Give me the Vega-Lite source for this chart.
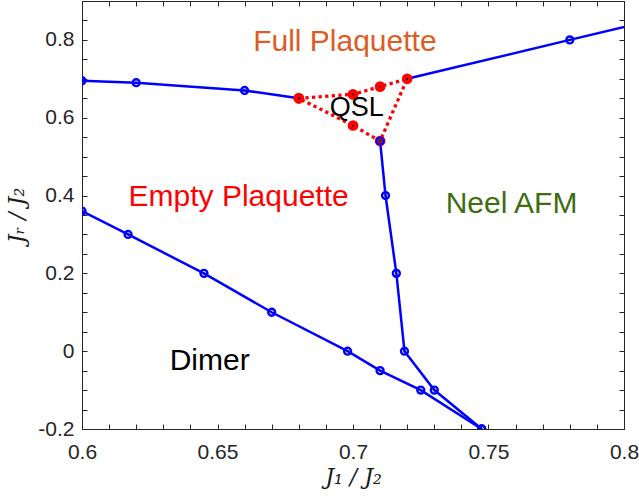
{
  "$schema": "https://vega.github.io/schema/vega-lite/v6.json",
  "width": 542,
  "height": 428,
  "autosize": "none",
  "padding": {"left": 82, "top": 1, "right": 15, "bottom": 68},
  "background": "white",
  "config": {
    "view": {"stroke": null},
    "font": "Liberation Sans",
    "axis": {
      "domainColor": "#262626",
      "domainWidth": 1,
      "tickColor": "#262626",
      "tickWidth": 1,
      "tickSize": 5,
      "grid": false,
      "labelColor": "#262626",
      "labelFont": "Liberation Sans",
      "labelFontSize": 21,
      "labelFlush": false,
      "labelOverlap": false,
      "titleFont": "DejaVu Serif",
      "titleFontStyle": "italic",
      "titleFontWeight": "normal",
      "titleFontSize": 22,
      "titleColor": "#1a1a1a"
    }
  },
  "datasets": {
    "lines": [
      {"series": "upperLeft", "ord": 0, "x": 0.6, "y": 0.695},
      {"series": "upperLeft", "ord": 1, "x": 0.62, "y": 0.69},
      {"series": "upperLeft", "ord": 2, "x": 0.66, "y": 0.67},
      {"series": "upperLeft", "ord": 3, "x": 0.68, "y": 0.65},
      {"series": "upperRight", "ord": 0, "x": 0.72, "y": 0.70},
      {"series": "upperRight", "ord": 1, "x": 0.78, "y": 0.80},
      {"series": "upperRight", "ord": 2, "x": 0.84, "y": 0.90},
      {"series": "vertical", "ord": 0, "x": 0.71, "y": 0.54},
      {"series": "vertical", "ord": 1, "x": 0.712, "y": 0.40},
      {"series": "vertical", "ord": 2, "x": 0.716, "y": 0.20},
      {"series": "vertical", "ord": 3, "x": 0.719, "y": 0.00},
      {"series": "vertical", "ord": 4, "x": 0.73, "y": -0.10},
      {"series": "vertical", "ord": 5, "x": 0.7475, "y": -0.20},
      {"series": "lower", "ord": 0, "x": 0.6, "y": 0.36},
      {"series": "lower", "ord": 1, "x": 0.617, "y": 0.30},
      {"series": "lower", "ord": 2, "x": 0.645, "y": 0.20},
      {"series": "lower", "ord": 3, "x": 0.67, "y": 0.10},
      {"series": "lower", "ord": 4, "x": 0.698, "y": 0.00},
      {"series": "lower", "ord": 5, "x": 0.71, "y": -0.05},
      {"series": "lower", "ord": 6, "x": 0.725, "y": -0.10},
      {"series": "lower", "ord": 7, "x": 0.7475, "y": -0.20}
    ],
    "qsl": [
      {"ord": 0, "x": 0.68, "y": 0.65},
      {"ord": 1, "x": 0.70, "y": 0.66},
      {"ord": 2, "x": 0.71, "y": 0.68},
      {"ord": 3, "x": 0.72, "y": 0.70},
      {"ord": 4, "x": 0.71, "y": 0.54},
      {"ord": 5, "x": 0.70, "y": 0.58},
      {"ord": 6, "x": 0.68, "y": 0.65}
    ],
    "labels": [
      {"label": "Full Plaquette", "x": 0.697, "y": 0.795, "phase": "full"},
      {"label": "Empty Plaquette", "x": 0.6578, "y": 0.396, "phase": "empty"},
      {"label": "Neel AFM", "x": 0.7585, "y": 0.378, "phase": "neel"},
      {"label": "Dimer", "x": 0.6471, "y": -0.024, "phase": "dimer"}
    ],
    "qslLabel": [
      {"label": "QSL", "x": 0.7014, "y": 0.626}
    ]
  },
  "resolve": {"scale": {"x": "independent", "y": "independent"}, "axis": {"x": "independent", "y": "independent"}},
  "layer": [
    {
      "data": {"name": "lines"},
      "mark": {"type": "point", "opacity": 0},
      "encoding": {
        "x": {
          "field": "x", "type": "quantitative",
          "scale": {"domain": [0.6, 0.8], "nice": false, "zero": false},
          "axis": {
            "orient": "bottom",
            "title": "J₁ / J₂",
            "titlePadding": 4,
            "ticks": false,
            "labelPadding": 12,
            "values": [0.6, 0.65, 0.7, 0.75, 0.8],
            "labelExpr": "format(datum.value, '~g')"
          }
        },
        "y": {
          "field": "y", "type": "quantitative",
          "scale": {"domain": [-0.2, 0.9], "nice": false, "zero": false},
          "axis": {
            "orient": "left",
            "title": "Jᵣ / J₂",
            "titlePadding": 9,
            "ticks": false,
            "labelPadding": 8,
            "values": [-0.2, 0, 0.2, 0.4, 0.6, 0.8],
            "labelExpr": "replace(format(datum.value, '~g'), '−', '-')"
          }
        }
      }
    },
    {
      "data": {"name": "lines"},
      "mark": {"type": "point", "opacity": 0},
      "encoding": {
        "x": {
          "field": "x", "type": "quantitative",
          "scale": {"domain": [0.6, 0.8], "nice": false, "zero": false},
          "axis": {
            "orient": "top", "offset": -428, "title": null, "labels": false,
            "values": [0.6, 0.61, 0.62, 0.63, 0.64, 0.65, 0.66, 0.67, 0.68, 0.69, 0.7, 0.71, 0.72, 0.73, 0.74, 0.75, 0.76, 0.77, 0.78, 0.79, 0.8]
          }
        },
        "y": {
          "field": "y", "type": "quantitative",
          "scale": {"domain": [-0.2, 0.9], "nice": false, "zero": false},
          "axis": {
            "orient": "right", "offset": -542, "title": null, "labels": false,
            "values": [-0.2, -0.15, -0.1, -0.05, 0, 0.05, 0.1, 0.15, 0.2, 0.25, 0.3, 0.35, 0.4, 0.45, 0.5, 0.55, 0.6, 0.65, 0.7, 0.75, 0.8, 0.85, 0.9]
          }
        }
      }
    },
    {
      "data": {"name": "lines"},
      "mark": {"type": "point", "opacity": 0},
      "encoding": {
        "x": {
          "field": "x", "type": "quantitative",
          "scale": {"domain": [0.6, 0.8], "nice": false, "zero": false},
          "axis": {
            "orient": "bottom", "offset": -428, "title": null, "labels": false,
            "values": [0.6, 0.61, 0.62, 0.63, 0.64, 0.65, 0.66, 0.67, 0.68, 0.69, 0.7, 0.71, 0.72, 0.73, 0.74, 0.75, 0.76, 0.77, 0.78, 0.79, 0.8]
          }
        },
        "y": {
          "field": "y", "type": "quantitative",
          "scale": {"domain": [-0.2, 0.9], "nice": false, "zero": false},
          "axis": {
            "orient": "left", "offset": -542, "title": null, "labels": false,
            "values": [-0.2, -0.15, -0.1, -0.05, 0, 0.05, 0.1, 0.15, 0.2, 0.25, 0.3, 0.35, 0.4, 0.45, 0.5, 0.55, 0.6, 0.65, 0.7, 0.75, 0.8, 0.85, 0.9]
          }
        }
      }
    },
    {
      "data": {"name": "lines"},
      "mark": {"type": "line", "color": "#0000FF", "strokeWidth": 2.5, "clip": true},
      "encoding": {
        "x": {"field": "x", "type": "quantitative", "axis": null, "scale": {"domain": [0.6, 0.8], "nice": false, "zero": false}},
        "y": {"field": "y", "type": "quantitative", "axis": null, "scale": {"domain": [-0.2, 0.9], "nice": false, "zero": false}},
        "detail": {"field": "series"},
        "order": {"field": "ord"}
      }
    },
    {
      "data": {"name": "lines"},
      "mark": {"type": "point", "shape": "circle", "filled": false, "color": "#0000FF", "strokeWidth": 2.4, "size": 48, "clip": true, "opacity": 1},
      "encoding": {
        "x": {"field": "x", "type": "quantitative", "axis": null, "scale": {"domain": [0.6, 0.8], "nice": false, "zero": false}},
        "y": {"field": "y", "type": "quantitative", "axis": null, "scale": {"domain": [-0.2, 0.9], "nice": false, "zero": false}}
      }
    },
    {
      "data": {"name": "qsl"},
      "mark": {"type": "line", "color": "#FF0000", "strokeWidth": 3.3, "strokeDash": [3.3, 3.3], "clip": true},
      "encoding": {
        "x": {"field": "x", "type": "quantitative", "axis": null, "scale": {"domain": [0.6, 0.8], "nice": false, "zero": false}},
        "y": {"field": "y", "type": "quantitative", "axis": null, "scale": {"domain": [-0.2, 0.9], "nice": false, "zero": false}},
        "order": {"field": "ord"}
      }
    },
    {
      "data": {"name": "qsl"},
      "mark": {"type": "point", "shape": "circle", "filled": true, "color": "#FF0000", "size": 115, "opacity": 1},
      "encoding": {
        "x": {"field": "x", "type": "quantitative", "axis": null, "scale": {"domain": [0.6, 0.8], "nice": false, "zero": false}},
        "y": {"field": "y", "type": "quantitative", "axis": null, "scale": {"domain": [-0.2, 0.9], "nice": false, "zero": false}}
      }
    },
    {
      "data": {"name": "qsl"},
      "transform": [{"filter": "datum.ord == 4"}],
      "mark": {"type": "point", "shape": "circle", "filled": false, "color": "#0000FF", "strokeWidth": 2.4, "size": 48, "opacity": 1},
      "encoding": {
        "x": {"field": "x", "type": "quantitative", "axis": null, "scale": {"domain": [0.6, 0.8], "nice": false, "zero": false}},
        "y": {"field": "y", "type": "quantitative", "axis": null, "scale": {"domain": [-0.2, 0.9], "nice": false, "zero": false}}
      }
    },
    {
      "data": {"name": "lines"},
      "mark": {"type": "point", "shape": "circle", "filled": true, "color": "#000060", "size": 3, "clip": true, "opacity": 1},
      "encoding": {
        "x": {"field": "x", "type": "quantitative", "axis": null, "scale": {"domain": [0.6, 0.8], "nice": false, "zero": false}},
        "y": {"field": "y", "type": "quantitative", "axis": null, "scale": {"domain": [-0.2, 0.9], "nice": false, "zero": false}}
      }
    },
    {
      "data": {"name": "qsl"},
      "mark": {"type": "point", "shape": "circle", "filled": true, "color": "#000000", "size": 3, "opacity": 1},
      "encoding": {
        "x": {"field": "x", "type": "quantitative", "axis": null, "scale": {"domain": [0.6, 0.8], "nice": false, "zero": false}},
        "y": {"field": "y", "type": "quantitative", "axis": null, "scale": {"domain": [-0.2, 0.9], "nice": false, "zero": false}}
      }
    },
    {
      "data": {"name": "labels"},
      "mark": {"type": "text", "font": "Liberation Sans", "fontSize": 30, "align": "center", "baseline": "middle"},
      "encoding": {
        "x": {"field": "x", "type": "quantitative", "axis": null, "scale": {"domain": [0.6, 0.8], "nice": false, "zero": false}},
        "y": {"field": "y", "type": "quantitative", "axis": null, "scale": {"domain": [-0.2, 0.9], "nice": false, "zero": false}},
        "text": {"field": "label"},
        "color": {
          "field": "phase", "type": "nominal", "legend": null,
          "scale": {"domain": ["full", "empty", "neel", "dimer"], "range": ["#DE5C22", "#FF0000", "#3E6E0E", "#000000"]}
        }
      }
    },
    {
      "data": {"name": "qslLabel"},
      "mark": {"type": "text", "font": "Liberation Sans", "fontSize": 27, "align": "center", "baseline": "middle", "color": "#000000"},
      "encoding": {
        "x": {"field": "x", "type": "quantitative", "axis": null, "scale": {"domain": [0.6, 0.8], "nice": false, "zero": false}},
        "y": {"field": "y", "type": "quantitative", "axis": null, "scale": {"domain": [-0.2, 0.9], "nice": false, "zero": false}},
        "text": {"field": "label"}
      }
    }
  ]
}
